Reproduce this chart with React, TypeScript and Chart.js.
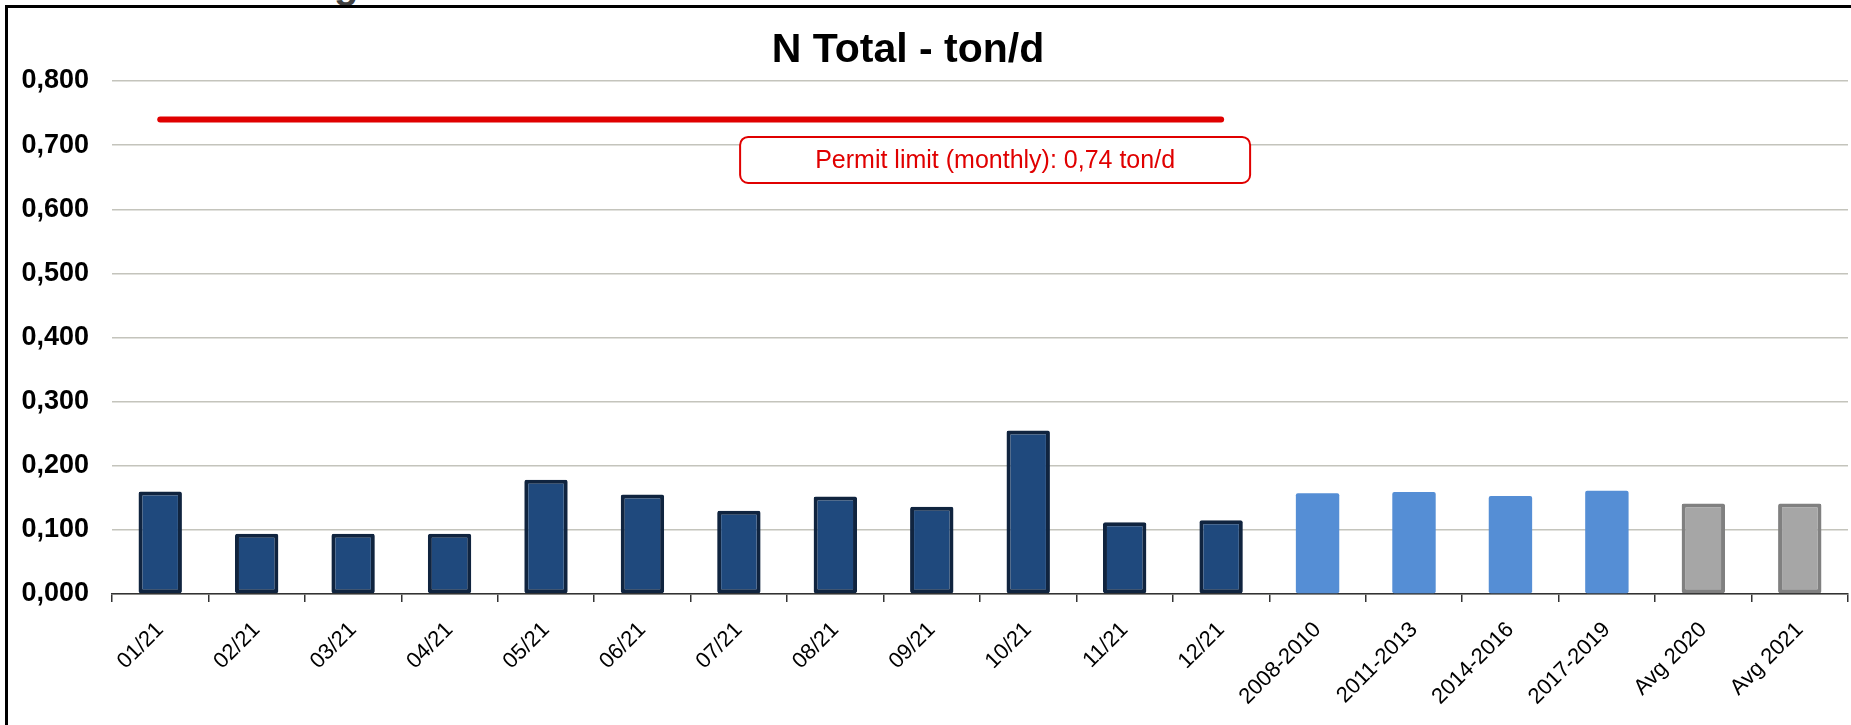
import React, { useEffect, useRef } from "react";
import { Chart, registerables } from "chart.js";

Chart.register(...registerables);

const categories = [
  "01/21", "02/21", "03/21", "04/21", "05/21", "06/21",
  "07/21", "08/21", "09/21", "10/21", "11/21", "12/21",
  "2008-2010", "2011-2013", "2014-2016", "2017-2019",
  "Avg 2020", "Avg 2021",
];

const monthlyValues = [
  0.160, 0.094, 0.094, 0.094, 0.178, 0.155,
  0.130, 0.152, 0.136, 0.255, 0.112, 0.115,
  null, null, null, null, null, null,
];

const periodValues = [
  null, null, null, null, null, null,
  null, null, null, null, null, null,
  0.157, 0.159, 0.153, 0.161, null, null,
];

const averageValues = [
  null, null, null, null, null, null,
  null, null, null, null, null, null,
  null, null, null, null, 0.141, 0.141,
];

const permitLimitValues = [
  0.74, 0.74, 0.74, 0.74, 0.74, 0.74,
  0.74, 0.74, 0.74, 0.74, 0.74, 0.74,
  null, null, null, null, null, null,
];

const yTicks = [0, 0.1, 0.2, 0.3, 0.4, 0.5, 0.6, 0.7, 0.8];

const chartTitle = "N Total - ton/d";
const permitLabel = "Permit limit (monthly): 0,74 ton/d";

const FONT = "'Liberation Sans', Arial, sans-serif";

const overlayPlugin = {
  id: "overlay",
  afterDraw(chart: any) {
    const ctx = chart.ctx;
    const xs = chart.scales.x;
    const ys = chart.scales.y;
    ctx.save();
    // Title
    ctx.fillStyle = "#000";
    ctx.font = `bold 41px ${FONT}`;
    ctx.textAlign = "center";
    ctx.textBaseline = "middle";
    ctx.fillText(chartTitle, 908, 51);

    // Permit limit label box, anchored to the end of the limit line
    let lastIdx = 0;
    permitLimitValues.forEach((v, i) => {
      if (v !== null) lastIdx = i;
    });
    const endX = xs.getPixelForValue(lastIdx);
    const lineY = ys.getPixelForValue(permitLimitValues[0] as number);
    const w = 510;
    const h = 46;
    const right = endX + 29;
    const left = right - w;
    const top = lineY + 17.5;
    const r = 8;
    ctx.beginPath();
    ctx.moveTo(left + r, top);
    ctx.lineTo(left + w - r, top);
    ctx.arcTo(left + w, top, left + w, top + r, r);
    ctx.lineTo(left + w, top + h - r);
    ctx.arcTo(left + w, top + h, left + w - r, top + h, r);
    ctx.lineTo(left + r, top + h);
    ctx.arcTo(left, top + h, left, top + h - r, r);
    ctx.lineTo(left, top + r);
    ctx.arcTo(left, top, left + r, top, r);
    ctx.closePath();
    ctx.fillStyle = "#ffffff";
    ctx.fill();
    ctx.strokeStyle = "#e00000";
    ctx.lineWidth = 2;
    ctx.stroke();
    ctx.fillStyle = "#e00000";
    ctx.font = `25px ${FONT}`;
    ctx.textAlign = "center";
    ctx.textBaseline = "middle";
    ctx.fillText(permitLabel, left + w / 2, top + h / 2 + 1);
    ctx.restore();
  },
};

export default function App() {
  const canvasRef = useRef<HTMLCanvasElement | null>(null);

  useEffect(() => {
    document.body.style.margin = "0";
    const canvas = canvasRef.current;
    if (!canvas) return;
    const chart = new Chart(canvas, {
      type: "bar",
      data: {
        labels: categories,
        datasets: [
          {
            type: "line",
            label: "Permit limit",
            data: permitLimitValues,
            borderColor: "#e00000",
            borderWidth: 6,
            borderCapStyle: "round",
            pointRadius: 0,
            fill: false,
            spanGaps: false,
            order: 0,
          } as any,
          {
            label: "Monthly 2021",
            data: monthlyValues,
            backgroundColor: "#1f497d",
            borderColor: "#10243f",
            borderWidth: 4,
            borderRadius: 2,
            borderSkipped: false,
            grouped: false,
            barPercentage: 0.45,
            categoryPercentage: 1,
            order: 1,
          } as any,
          {
            label: "Period averages",
            data: periodValues,
            backgroundColor: "#558ed5",
            borderWidth: 0,
            borderRadius: 2,
            borderSkipped: false,
            grouped: false,
            barPercentage: 0.45,
            categoryPercentage: 1,
            order: 1,
          } as any,
          {
            label: "Annual averages",
            data: averageValues,
            backgroundColor: "#a6a6a6",
            borderColor: "#808080",
            borderWidth: 4,
            borderRadius: 2,
            borderSkipped: false,
            grouped: false,
            barPercentage: 0.45,
            categoryPercentage: 1,
            order: 1,
          } as any,
        ],
      },
      options: {
        animation: false,
        responsive: false,
        maintainAspectRatio: false,
        layout: { padding: { left: 0, right: 3, top: 81, bottom: 0 } },
        plugins: {
          legend: { display: false },
          tooltip: { enabled: false },
          title: { display: false },
        },
        scales: {
          x: {
            type: "category",
            offset: true,
            grid: {
              display: true,
              offset: true,
              drawOnChartArea: false,
              drawTicks: true,
              tickLength: 8,
              color: "#333",
              lineWidth: 1.5,
            },
            border: { display: true, color: "#333", width: 1.5 },
            ticks: {
              autoSkip: false,
              minRotation: 45,
              maxRotation: 45,
              color: "#000",
              padding: 15,
              font: { family: FONT, size: 22 },
            },
            afterFit(scale: any) {
              scale.height = 131;
            },
          },
          y: {
            min: 0,
            max: 0.8,
            afterBuildTicks(scale: any) {
              scale.ticks = yTicks.map((v) => ({ value: v }));
            },
            ticks: {
              color: "#000",
              padding: 23,
              font: { family: FONT, size: 27, weight: "bold" },
              callback: (v: any) => Number(v).toFixed(3).replace(".", ","),
            },
            grid: { color: "#c4c4bc", lineWidth: 1.5, drawTicks: false },
            border: { display: false },
            afterFit(scale: any) {
              scale.width = 112;
            },
          },
        },
      },
      plugins: [overlayPlugin],
    });
    return () => chart.destroy();
  }, []);

  return (
    <div style={{ position: "relative", width: 1851, height: 725, overflow: "hidden", background: "#fff" }}>
      <span
        style={{
          position: "absolute",
          left: 334,
          top: -38,
          font: `bold 40px ${FONT}`,
          color: "#404040",
          lineHeight: "normal",
        }}
      >
        g
      </span>
      <div
        style={{
          position: "absolute",
          left: 5,
          top: 5,
          width: 1900,
          height: 800,
          borderLeft: "3px solid #000",
          borderTop: "3px solid #000",
        }}
      />
      <canvas ref={canvasRef} width={1851} height={725} style={{ position: "absolute", left: 0, top: 0 }} />
    </div>
  );
}
